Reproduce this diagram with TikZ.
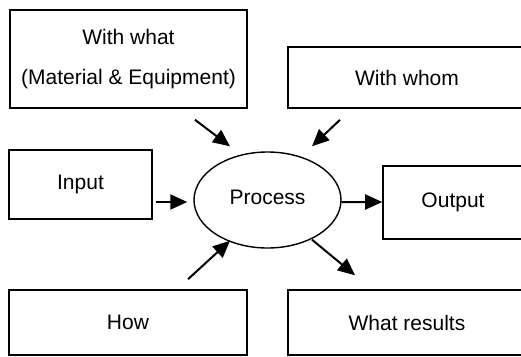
\documentclass[tikz,border=0pt]{standalone}
\usepackage{fontspec}
\setmainfont{Liberation Sans}
\usetikzlibrary{arrows.meta, shapes.geometric, calc}

\begin{document}
\begin{tikzpicture}[->, >={Triangle[length=17bp,width=15bp]}, x=1bp, y=1bp, line width=2bp]
		\tikzstyle{box}=[draw=black, line width=1.6bp, rectangle, inner sep=0pt, text=black, font=\fontsize{21bp}{40bp}\selectfont, align=center]
		\tikzstyle{oval}=[draw=black, line width=1.4bp, ellipse, inner sep=0pt, text=black, font=\fontsize{21bp}{25bp}\selectfont]
		\useasboundingbox (0, 0) rectangle (521, 356);
		
		\node[box, minimum width=237bp, minimum height=98bp] at (128.5, 297)  (withwhat)  {With what\\(Material \& Equipment)};
		\node[box, minimum width=238bp, minimum height=61bp] at (407, 278.5)  (withwhom)  {With whom};
		\node[box, minimum width=143bp, minimum height=69bp] at (80.5, 171.5)  (input)  {Input};
		\node[oval, minimum width=147bp, minimum height=96bp, text depth=5bp] at (267.5, 156)  (process)  {Process};
		\node[box, minimum width=140bp, minimum height=73bp] at (453, 153.5)  (output)  {Output};
		\node[box, minimum width=238bp, minimum height=65bp] at (128, 33.5)  (how)  {How};
		\node[box, minimum width=238bp, minimum height=65bp] at (407, 33.5)  (whatresults)  {What results};
		
		\path
		($(withwhat.south)+(66.5,-11)$) edge ($(process.north)+(-37.5,5)$)
		($(withwhom.south)+(-67,-11)$) edge ($(process.north)+(44.5,5)$)
		($(input.east)+(3,-17.5)$) edge ($(process.west)+(-6,-2)$)
		($(how.north)+(60,10)$) edge ($(process.south)+(-37.5,8)$)
		($(process.east)+(0,-2)$) edge ($(output.west)+(0,0.5)$)
		($(process.south)+(44.5,9)$) edge ($(whatresults.north)+(-52,14)$);
	\end{tikzpicture}
\end{document}
